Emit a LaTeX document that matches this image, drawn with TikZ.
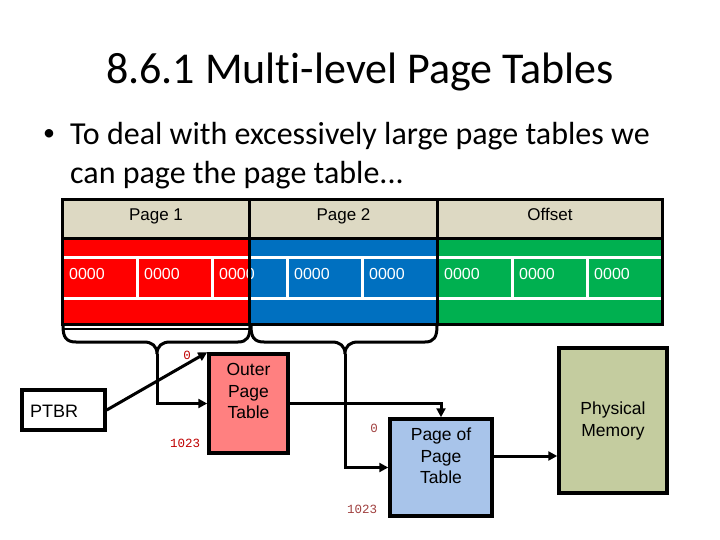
\documentclass[tikz,border=0pt]{standalone}
\usepackage{fontspec}
\setmainfont{Liberation Sans}
\newfontfamily\calfont[Ligatures=NoCommon]{Carlito}
\newfontfamily\numfont{Liberation Mono}
\usetikzlibrary{arrows.meta}
\definecolor{hdr}{HTML}{DDD9C3}
\definecolor{fred}{HTML}{FF0000}
\definecolor{fblue}{HTML}{0070C0}
\definecolor{fgreen}{HTML}{00B050}
\definecolor{outerc}{HTML}{FF8080}
\definecolor{poptc}{HTML}{A8C4EA}
\definecolor{physc}{HTML}{C4CC9F}
\definecolor{numa}{HTML}{C00000}
\definecolor{numb}{HTML}{A0403F}
\begin{document}
\begin{tikzpicture}[x=1pt,y=-1pt,
  bits/.style={text=white,font=\fontsize{16}{19}\selectfont,inner sep=0pt},
  lbl/.style={font=\fontsize{17}{20}\selectfont,inner sep=0pt},
  boxtxt/.style={font=\fontsize{17.5}{21.5}\selectfont,align=center,inner sep=0pt},
  numlbl/.style={font=\numfont\fontsize{12.5}{14}\selectfont,inner sep=0pt},
  blk/.style={draw=black,line width=3.5pt,inner sep=0pt},
  brace/.style={draw=black,line width=3pt},
  conn/.style={draw=black,line width=3pt,-{Triangle[length=9pt,width=9pt]}}]
\useasboundingbox (0,0) rectangle (720,540);
\fill[white] (0,0) rectangle (720,540);
% title and bullet
\node[font=\calfont\fontsize{44}{53}\selectfont,anchor=base,inner sep=0pt] (title) at (360,84) {8.6.1 Multi-level Page Tables};
\node[font=\calfont\fontsize{24}{28}\selectfont,anchor=base west,inner sep=0pt] (bullet) at (43,141) {•};
\node[font=\calfont\fontsize{32}{38}\selectfont,anchor=base west,inner sep=0pt] (line1) at (70,145) {To deal with excessively large page tables we};
\node[font=\calfont\fontsize{32}{38}\selectfont,anchor=base west,inner sep=0pt] (line2) at (70,184) {can page the page table...};
% address fields
\fill[hdr] (62,200) rectangle (662,238);
\fill[fred] (62,238) rectangle (249.5,324);
\fill[fblue] (249.5,238) rectangle (437,324);
\fill[fgreen] (437,238) rectangle (662,324);
\draw[white,line width=3pt] (62,257) -- (662,257) (62,298) -- (662,298);
\foreach \x in {137,212,287,362,437,512,587} \draw[white,line width=3pt] (\x,257) -- (\x,298);
\foreach \i in {0,...,7} \node[bits,anchor=base west] (b\i) at (69+75*\i,279) {0000};
\node[lbl,anchor=base] (p1) at (156,221) {Page 1};
\node[lbl,anchor=base] (p2) at (343.5,221) {Page 2};
\node[lbl,anchor=base] (off) at (550,221) {Offset};
\draw[line width=3pt] (62,200) rectangle (662,324);
\draw[line width=3pt] (62,238) -- (662,238) (249.5,200) -- (249.5,324) (437,200) -- (437,324);
\draw[line width=2pt] (63,329) -- (250,329);
% braces
\coordinate (c1) at (157,354);
\coordinate (c2) at (345,354);
\draw[brace] (63,326) .. controls (63,337) and (66,342) .. (76,342) -- (144,342)
  .. controls (152,342) and (157,346) .. (c1)
  .. controls (157,346) and (162,342) .. (170,342) -- (238,342)
  .. controls (247,342) and (250,337) .. (250,326);
\draw[brace] (251,326) .. controls (251,337) and (254,342) .. (264,342) -- (332,342)
  .. controls (340,342) and (345,346) .. (c2)
  .. controls (345,346) and (350,342) .. (358,342) -- (425,342)
  .. controls (434,342) and (437,337) .. (437,326);
% boxes
\node[blk,fill=white,minimum width=83pt,minimum height=40pt] (ptbr) at (63.5,410) {};
\node[lbl,anchor=base west,font=\fontsize{18}{20}\selectfont] (ptbrt) at (30,417) {PTBR};
\node[blk,fill=outerc,minimum width=79pt,minimum height=99pt] (outer) at (248.5,403.5) {};
\node[boxtxt] (outert) at (248.5,391) {Outer\\Page\\Table};
\node[blk,fill=poptc,minimum width=102pt,minimum height=97pt] (popt) at (441,467.5) {};
\node[boxtxt] (poptt) at (441,456) {Page of\\Page\\Table};
\node[blk,fill=physc,minimum width=108pt,minimum height=145pt] (phys) at (613,420.5) {};
\node[boxtxt] (physt) at (613,421) {Physical\\Memory};
% index labels
\node[numlbl,text=numa] (o0) at (187,355) {0};
\node[numlbl,text=numa] (o1023) at (185,443) {1023};
\node[numlbl,text=numb] (q0) at (374,428) {0};
\node[numlbl,text=numb] (q1023) at (362,509) {1023};
% connectors
\draw[conn] (c1) |- (outer.west);
\draw[conn] (c2) |- (popt.west);
\draw[conn] (ptbr.east) -- (outer.north west);
\draw[conn] (outer.east) -| (popt.north);
\draw[conn] ([yshift=11.5pt]popt.east) coordinate (pe) -- (pe -| phys.west);
\end{tikzpicture}
\end{document}
